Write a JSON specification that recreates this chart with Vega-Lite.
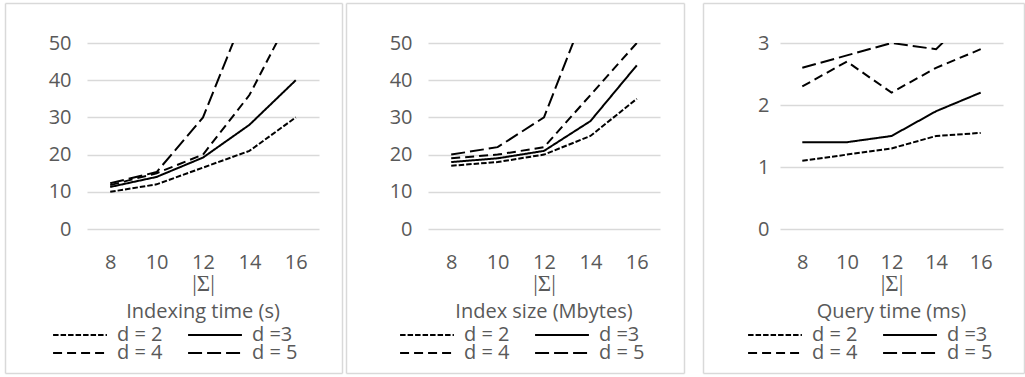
{
  "$schema": "https://vega.github.io/schema/vega-lite/v6.json",
  "padding": {"left": 5, "top": 3, "right": 0, "bottom": 0},
  "background": "white",
  "datasets": {
    "t": [
      {"m": "idx", "d": "d = 2", "s": 8, "v": 10}, {"m": "idx", "d": "d = 2", "s": 10, "v": 12}, {"m": "idx", "d": "d = 2", "s": 12, "v": 16.5}, {"m": "idx", "d": "d = 2", "s": 14, "v": 21}, {"m": "idx", "d": "d = 2", "s": 16, "v": 30},
      {"m": "idx", "d": "d =3", "s": 8, "v": 11.3}, {"m": "idx", "d": "d =3", "s": 10, "v": 14}, {"m": "idx", "d": "d =3", "s": 12, "v": 19.2}, {"m": "idx", "d": "d =3", "s": 14, "v": 28}, {"m": "idx", "d": "d =3", "s": 16, "v": 40},
      {"m": "idx", "d": "d = 4", "s": 8, "v": 11.8}, {"m": "idx", "d": "d = 4", "s": 10, "v": 15}, {"m": "idx", "d": "d = 4", "s": 12, "v": 20}, {"m": "idx", "d": "d = 4", "s": 14, "v": 36}, {"m": "idx", "d": "d = 4", "s": 16, "v": 60},
      {"m": "idx", "d": "d = 5", "s": 8, "v": 12.3}, {"m": "idx", "d": "d = 5", "s": 10, "v": 15.3}, {"m": "idx", "d": "d = 5", "s": 12, "v": 30}, {"m": "idx", "d": "d = 5", "s": 14, "v": 61}, {"m": "idx", "d": "d = 5", "s": 16, "v": 100},
      {"m": "size", "d": "d = 2", "s": 8, "v": 17}, {"m": "size", "d": "d = 2", "s": 10, "v": 18}, {"m": "size", "d": "d = 2", "s": 12, "v": 20}, {"m": "size", "d": "d = 2", "s": 14, "v": 25}, {"m": "size", "d": "d = 2", "s": 16, "v": 35},
      {"m": "size", "d": "d =3", "s": 8, "v": 18}, {"m": "size", "d": "d =3", "s": 10, "v": 19}, {"m": "size", "d": "d =3", "s": 12, "v": 21}, {"m": "size", "d": "d =3", "s": 14, "v": 29}, {"m": "size", "d": "d =3", "s": 16, "v": 44},
      {"m": "size", "d": "d = 4", "s": 8, "v": 19}, {"m": "size", "d": "d = 4", "s": 10, "v": 20}, {"m": "size", "d": "d = 4", "s": 12, "v": 22}, {"m": "size", "d": "d = 4", "s": 14, "v": 36}, {"m": "size", "d": "d = 4", "s": 16, "v": 50},
      {"m": "size", "d": "d = 5", "s": 8, "v": 20}, {"m": "size", "d": "d = 5", "s": 10, "v": 22}, {"m": "size", "d": "d = 5", "s": 12, "v": 30}, {"m": "size", "d": "d = 5", "s": 14, "v": 62}, {"m": "size", "d": "d = 5", "s": 16, "v": 100},
      {"m": "query", "d": "d = 2", "s": 8, "v": 1.1}, {"m": "query", "d": "d = 2", "s": 10, "v": 1.2}, {"m": "query", "d": "d = 2", "s": 12, "v": 1.3}, {"m": "query", "d": "d = 2", "s": 14, "v": 1.5}, {"m": "query", "d": "d = 2", "s": 16, "v": 1.55},
      {"m": "query", "d": "d =3", "s": 8, "v": 1.4}, {"m": "query", "d": "d =3", "s": 10, "v": 1.4}, {"m": "query", "d": "d =3", "s": 12, "v": 1.5}, {"m": "query", "d": "d =3", "s": 14, "v": 1.9}, {"m": "query", "d": "d =3", "s": 16, "v": 2.2},
      {"m": "query", "d": "d = 4", "s": 8, "v": 2.3}, {"m": "query", "d": "d = 4", "s": 10, "v": 2.7}, {"m": "query", "d": "d = 4", "s": 12, "v": 2.2}, {"m": "query", "d": "d = 4", "s": 14, "v": 2.6}, {"m": "query", "d": "d = 4", "s": 16, "v": 2.9},
      {"m": "query", "d": "d = 5", "s": 8, "v": 2.6}, {"m": "query", "d": "d = 5", "s": 10, "v": 2.8}, {"m": "query", "d": "d = 5", "s": 12, "v": 3.0}, {"m": "query", "d": "d = 5", "s": 14, "v": 2.9}, {"m": "query", "d": "d = 5", "s": 16, "v": 3.6}
    ]
  },
  "resolve": {"scale": {"strokeDash": "independent"}, "legend": {"strokeDash": "independent"}},
  "spacing": -63,
  "hconcat": [
    {
      "resolve": {"scale": {"strokeDash": "independent"}, "legend": {"strokeDash": "independent"}},
      "spacing": -78,
      "hconcat": [
        {
          "width": 232, "height": 186,
          "title": {"text": "Indexing time (s)", "orient": "bottom", "frame": "group", "offset": -111, "anchor": "middle"},
          "layer": [
            {
              "data": {"name": "t"},
              "transform": [{"filter": "datum.m === 'idx'"}],
              "mark": {"type": "line", "clip": true, "strokeWidth": 2, "color": "black"},
              "encoding": {
                "x": {"field": "s", "type": "ordinal", "scale": {"type": "point", "padding": 0.5}, "axis": {"title": "|Σ|", "labelAngle": 0, "domain": false, "ticks": false, "tickSize": 0, "labelPadding": 23, "titlePadding": 0, "grid": false}},
                "y": {"field": "v", "type": "quantitative", "scale": {"domain": [0, 50], "nice": false}, "axis": {"values": [0, 10, 20, 30, 40, 50], "title": null, "grid": true, "domain": false, "ticks": false, "tickSize": 0, "labelPadding": 16}},
                "strokeDash": {"field": "d", "type": "nominal", "scale": {"domain": ["d = 2", "d =3", "d = 4", "d = 5"], "range": [[5.5, 2], [1, 0], [9, 5], [14, 5]]}, "legend": {"legendX": -35, "legendY": 284}}
              }
            },
            {
              "data": {"values": [{}]},
              "mark": {"type": "rect", "opacity": 0},
              "encoding": {
                "x": {"datum": 0, "type": "quantitative", "scale": {"domain": [0, 1], "range": [-82, 255], "nice": false, "zero": false}, "axis": {"orient": "top", "values": [0, 1], "grid": true, "labels": false, "ticks": false, "domain": false, "title": null, "gridColor": "#d9d9d9", "gridWidth": 1.5}},
                "x2": {"datum": 1},
                "y": {"datum": 0, "type": "quantitative", "scale": {"domain": [0, 1], "range": [330, -40], "nice": false, "zero": false}, "axis": {"orient": "left", "values": [0, 1], "grid": true, "labels": false, "ticks": false, "domain": false, "title": null, "gridColor": "#d9d9d9", "gridWidth": 1.5}},
                "y2": {"datum": 1}
              }
            }
          ],
          "resolve": {"scale": {"x": "independent", "y": "independent"}, "axis": {"x": "independent", "y": "independent"}}
        },
        {
          "width": 232, "height": 186,
          "title": {"text": "Index size (Mbytes)", "orient": "bottom", "frame": "group", "offset": -111, "anchor": "middle"},
          "layer": [
            {
              "data": {"name": "t"},
              "transform": [{"filter": "datum.m === 'size'"}],
              "mark": {"type": "line", "clip": true, "strokeWidth": 2, "color": "black"},
              "encoding": {
                "x": {"field": "s", "type": "ordinal", "scale": {"type": "point", "padding": 0.5}, "axis": {"title": "|Σ|", "labelAngle": 0, "domain": false, "ticks": false, "tickSize": 0, "labelPadding": 23, "titlePadding": 0, "grid": false}},
                "y": {"field": "v", "type": "quantitative", "scale": {"domain": [0, 50], "nice": false}, "axis": {"values": [0, 10, 20, 30, 40, 50], "title": null, "grid": true, "domain": false, "ticks": false, "tickSize": 0, "labelPadding": 16}},
                "strokeDash": {"field": "d", "type": "nominal", "scale": {"domain": ["d = 2", "d =3", "d = 4", "d = 5"], "range": [[5.5, 2], [1, 0], [9, 5], [14, 5]]}, "legend": {"legendX": -29, "legendY": 284}}
              }
            },
            {
              "data": {"values": [{}]},
              "mark": {"type": "rect", "opacity": 0},
              "encoding": {
                "x": {"datum": 0, "type": "quantitative", "scale": {"domain": [0, 1], "range": [-82, 256], "nice": false, "zero": false}, "axis": {"orient": "top", "values": [0, 1], "grid": true, "labels": false, "ticks": false, "domain": false, "title": null, "gridColor": "#d9d9d9", "gridWidth": 1.5}},
                "x2": {"datum": 1},
                "y": {"datum": 0, "type": "quantitative", "scale": {"domain": [0, 1], "range": [330, -40], "nice": false, "zero": false}, "axis": {"orient": "left", "values": [0, 1], "grid": true, "labels": false, "ticks": false, "domain": false, "title": null, "gridColor": "#d9d9d9", "gridWidth": 1.5}},
                "y2": {"datum": 1}
              }
            }
          ],
          "resolve": {"scale": {"x": "independent", "y": "independent"}, "axis": {"x": "independent", "y": "independent"}}
        }
      ]
    },
    {
      "width": 223, "height": 186,
      "title": {"text": "Query time (ms)", "orient": "bottom", "frame": "group", "offset": -111, "anchor": "middle"},
      "layer": [
        {
          "data": {"name": "t"},
          "transform": [{"filter": "datum.m === 'query'"}],
          "mark": {"type": "line", "clip": true, "strokeWidth": 2, "color": "black"},
          "encoding": {
            "x": {"field": "s", "type": "ordinal", "scale": {"type": "point", "padding": 0.5}, "axis": {"title": "|Σ|", "labelAngle": 0, "domain": false, "ticks": false, "tickSize": 0, "labelPadding": 23, "titlePadding": 0, "grid": false}},
            "y": {"field": "v", "type": "quantitative", "scale": {"domain": [0, 3], "nice": false}, "axis": {"values": [0, 1, 2, 3], "title": null, "grid": true, "domain": false, "ticks": false, "tickSize": 0, "labelPadding": 11}},
            "strokeDash": {"field": "d", "type": "nominal", "scale": {"domain": ["d = 2", "d =3", "d = 4", "d = 5"], "range": [[5.5, 2], [1, 0], [9, 5], [14, 5]]}, "legend": {"legendX": -33, "legendY": 284}}
          }
        },
        {
          "data": {"values": [{}]},
          "mark": {"type": "rect", "opacity": 0},
          "encoding": {
            "x": {"datum": 0, "type": "quantitative", "scale": {"domain": [0, 1], "range": [-77, 244], "nice": false, "zero": false}, "axis": {"orient": "top", "values": [0, 1], "grid": true, "labels": false, "ticks": false, "domain": false, "title": null, "gridColor": "#d9d9d9", "gridWidth": 1.5}},
            "x2": {"datum": 1},
            "y": {"datum": 0, "type": "quantitative", "scale": {"domain": [0, 1], "range": [330, -40], "nice": false, "zero": false}, "axis": {"orient": "left", "values": [0, 1], "grid": true, "labels": false, "ticks": false, "domain": false, "title": null, "gridColor": "#d9d9d9", "gridWidth": 1.5}},
            "y2": {"datum": 1}
          }
        }
      ],
      "resolve": {"scale": {"x": "independent", "y": "independent"}, "axis": {"x": "independent", "y": "independent"}}
    }
  ],
  "config": {
    "view": {"stroke": null},
    "font": "Open Sans",
    "axis": {"labelFont": "Open Sans", "labelFontSize": 20, "labelColor": "#595959", "titleFont": "Liberation Serif", "titleFontSize": 23, "titleColor": "#595959", "titleFontWeight": "normal", "gridColor": "#d9d9d9", "gridWidth": 1.5},
    "title": {"font": "Open Sans", "fontSize": 20, "fontWeight": "normal", "color": "#595959"},
    "legend": {"orient": "none", "direction": "horizontal", "columns": 2, "title": null, "padding": 0, "symbolType": "stroke", "symbolSize": 2900, "symbolStrokeWidth": 2, "symbolStrokeColor": "black", "labelFont": "Open Sans", "labelFontSize": 20, "labelColor": "#595959", "labelOffset": 9, "columnPadding": 24, "rowPadding": -3, "clipHeight": 16}
  }
}
